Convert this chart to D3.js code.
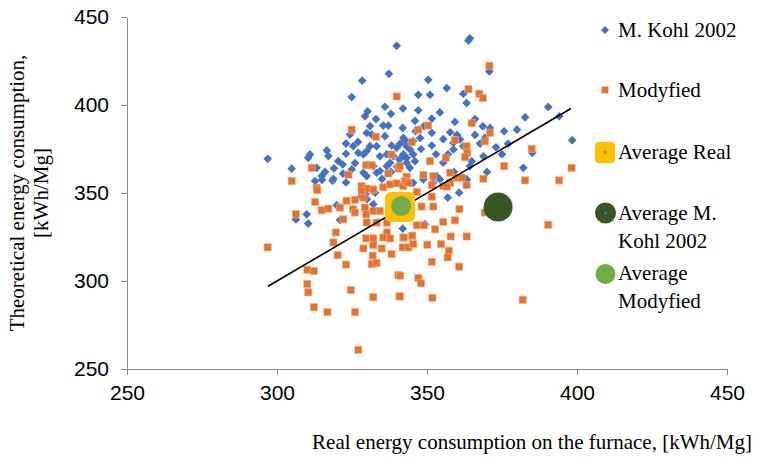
<!DOCTYPE html>
<html><head><meta charset="utf-8">
<script src="https://cdn.jsdelivr.net/npm/d3@7/dist/d3.min.js"></script>
<style>
html,body{margin:0;padding:0;background:#fff;}
svg{display:block;font-family:"Palatino Linotype","Book Antiqua",Palatino,"Liberation Serif",serif;}
</style></head>
<body><svg id="c" width="764" height="464"></svg>
<script>
const xTicks = [250,300,350,400,450];
const yTicks = [250,300,350,400,450];
const xTitle = "Real energy consumption on the furnace, [kWh/Mg]";
const yTitle = ["Theoretical energy consumption,", "[kWh/Mg]"];
const seriesNames = ["M. Kohl 2002","Modyfied","Average Real","Average M. Kohl 2002","Average Modyfied"];

const kohl = [
[339.9,433.6],[337.3,417.7],[328.4,413.8],[324.9,404.5],[330.2,396.4],[329.3,393.6],[296.9,369.4],[304.9,363.8],[311,371.9],[310.4,370],[316.6,374.2],[317.1,371],[313.2,364.3],[312.7,356.8],[314.9,359.6],[318.8,358.1],[320.4,368.1],[321.9,366.2],[323,372.3],[325.4,376.6],[323,378.1],[324.3,383.2],[327.1,372.8],[328.8,371.9],[329.9,384.1],[331.6,383.2],[331,376.6],[329.9,373.8],[333.2,376.6],[335.4,388.3],[337.1,388.3],[336,382.3],[334.3,370.9],[336.6,371.9],[338.2,377],[338.8,370.9],[339.9,375.7],[340.8,369],[341.9,387],[342.1,381.3],[343.2,376.6],[333.2,361.5],[334.3,362.5],[328.8,361.5],[329.9,359.6],[324.9,363.4],[332.1,365.3],[336.6,365.3],[337.7,367.2],[342.1,370.9],[343.2,370],
[309.9,337.9],[310.4,332.6],[306.3,335],[319.9,343],[321,334.7],[315,357.5],[318.5,357],[328,348],[329.5,349.5],[330,346.5],[332.1,343.6],[332.7,350.2],[341.9,329.8],
[364.3,437.9],[363.8,436.6],[370.8,419.1],[350.4,414.3],[356.6,409.6],[362.1,406.4],[363.2,401.1],[347.1,405.8],[351,405.8],[347.1,397],[354.3,395.8],[351.6,392.3],[359.3,390.4],[346.2,385.1],[351.6,384.2],[357.7,384.5],[368.6,387.9],[375.7,385.1],[382.7,393],[390.4,398.9],[394.1,393.6],[398.4,380],[341,378],[342.7,380],[345.4,379.5],[347.7,381.3],[344.3,374.8],[342.1,371.9],[345.4,371.9],[343.2,367.2],[346,368],[344.3,364.3],[355.4,380.6],[358.8,378.5],[361,380.4],[362.1,376.6],[358.8,374.7],[351.6,377],[367.7,378.1],[369.3,381.3],[364.9,368.1],[364.3,365.3],[355.4,367.2],[368.8,370.9],[382.1,364.3],[385.1,372.8],[348.8,357.7],[353.2,359.6],[363.2,357.7],[352.1,355.8],[345.4,355.8],
[349.3,332.3],[356.9,347.4],[360.7,350.2],[354.3,357.7],[363.2,357.7],
[338,362],[340,365],[335,358],[326,367],[322,361],[319,364],[327,379],[333,392],[338,395],[349,388],[353,372],[348,375],[357,372],[360,383],[366,383],[371,387],[366,392],[373,376],[377,378],[359,362],[370,362],[375,372],[380,386],[346,391],[342,398],[336,399],[331,388],[323,356],[316,362]
];

const modyfied = [
[339.9,404.9],[324.9,386],[333,381.9],[338.2,371.9],[311.6,364.3],[304.9,356.8],[323.8,360.4],[329.7,365.8],[331.6,365.8],[337.1,361.1],[340.5,363.9],[343.2,359.2],[313.2,353],[328.2,354],[329.9,352.5],[332.1,352],[335.4,353.3],[337.7,354.9],[339.9,355.5],[342.1,354],
[313.4,351.7],[312.7,344.9],[314.9,340.2],[317.1,341.1],[321,341.7],[323.2,345.5],[326,346.1],[328.8,347.4],[328.2,351.2],[325.4,340.8],[326,338.9],[329.3,341.7],[329.7,337.9],[332.1,339.8],[334.3,339.8],[322.1,335.1],[329.9,333.2],[333.2,333.2],[336.6,327.6],[336.6,333.2],[319.6,327.6],[318.8,321.9],[296.9,319.1],[329.7,324.2],[332.1,324.2],[335.4,324.7],[337.7,324.2],[332.1,320.4],[328.8,318.5],[334.9,318.5],[342.1,324.7],[341.9,319.1],[343.8,319.1],[338.2,315.3],[320.2,314.7],[323,309.3],[331.9,314.4],[331.6,309.6],[333.2,310.2],[310.1,306.4],[312.3,305.7],[310.1,298.3],[310.4,293.6],[324.6,294.9],[340.4,303.4],[332.1,290.8],[340.8,291.2],[312.3,285.1],[316.8,282.3],[326,282.3],[327.1,260.9],[306.3,338],
[370.8,422.3],[363.8,409],[367.4,406.4],[368.6,404],[364.9,389.8],[350.4,388.3],[347.1,386],[371,384.2],[369.3,379.4],[344.9,378.9],[359.3,380],[363.2,376.6],[363.4,372.8],[362.7,370.4],[356.3,370],[351,368.1],[341,365.3],[375.7,365.3],[384.9,375.1],[398.2,364.3],[348.8,360.2],[352.1,359.6],[357.7,361.5],[359.9,358.7],[361.6,358.7],[357.7,355.8],[368.8,358.1],[382.7,357.2],[394,357.2],[342.7,356.8],[343.8,355.8],[351.6,354.5],[355.4,354],[363.2,354.5],
[346.6,350.6],[351.6,347.9],[356.6,353.6],[348.2,342.3],[352.1,342.3],[360.8,340.8],[355.4,333.6],[359.3,334.5],[346.6,331.7],[349,331.7],[352.7,329.4],[342.3,324.7],[345.1,325.7],[357.9,325.3],[363.2,325.3],[345.4,321],[350.1,320.6],[354.7,321],[357.3,317.2],[356.9,313.4],[351.6,310.9],[360.7,308.1],[347.1,301.7],[348,298.7],[341,303],[351.8,290.4],[341,291.3],[390.4,331.9],[381.9,289.3],[369.3,338.9]
];

const averageReal = [[341,342]];
const averageKohl = [[373.7,342]];
const averageModyfied = [[341.4,342.6]];
const trendLine = [[297,297],[398,398]];

const colors = {kohl:"#4472C4", mod:"#E5732F", real:"#FFC000", avgKohl:"#375623", avgMod:"#70AD47"};

const svg = d3.select("#c");
const x = d3.scaleLinear().domain([250,450]).range([127,727]);
const y = d3.scaleLinear().domain([250,450]).range([369,17]);
const axisColor = "#8c8c8c";
const fontSize = 21;

// axes
const gx = svg.append("g").attr("transform","translate(0,"+y(250)+")")
  .call(d3.axisBottom(x).tickValues(xTicks).tickSize(6).tickSizeOuter(0).tickPadding(10));
const gy = svg.append("g").attr("transform","translate("+x(250)+",0)")
  .call(d3.axisLeft(y).tickValues(yTicks).tickSize(6).tickSizeOuter(0).tickPadding(12));
[gx,gy].forEach(g=>{
  g.selectAll("path,line").attr("stroke",axisColor).attr("stroke-width",1).attr("shape-rendering","crispEdges");
  g.selectAll("text").attr("fill","#000").attr("font-size",fontSize).attr("font-family","inherit");
});

// series M. Kohl 2002 (diamonds)
const dia = d3.symbol().type(d3.symbolDiamond2).size(48);
svg.append("g").selectAll("path").data(kohl).join("path")
  .attr("d",dia).attr("transform",d=>"translate("+x(d[0])+","+y(d[1])+") ")
  .attr("fill",colors.kohl);

// Modyfied (squares)
const sq = d3.symbol().type(d3.symbolSquare).size(52);
svg.append("g").selectAll("path").data(modyfied).join("path")
  .attr("d",sq).attr("transform",d=>"translate("+x(d[0])+","+y(d[1])+")")
  .attr("fill",colors.mod).attr("stroke","#F4B183").attr("stroke-width",0.6);

// trend line
svg.append("path").datum(trendLine)
  .attr("d",d3.line().x(d=>x(d[0])).y(d=>y(d[1])))
  .attr("stroke","#000").attr("stroke-width",1.6).attr("fill","none");

// averages
svg.append("g").selectAll("rect").data(averageReal).join("rect")
  .attr("x",d=>x(d[0])-15).attr("y",d=>y(d[1])-15).attr("width",30).attr("height",30)
  .attr("rx",6).attr("fill",colors.real);
svg.append("g").selectAll("circle").data(averageKohl).join("circle")
  .attr("cx",d=>x(d[0])).attr("cy",d=>y(d[1])).attr("r",14.5).attr("fill",colors.avgKohl);
svg.append("g").selectAll("circle").data(averageModyfied).join("circle")
  .attr("cx",d=>x(d[0])).attr("cy",d=>y(d[1])).attr("r",10).attr("fill",colors.avgMod);

// axis titles
svg.append("text").attr("x",752).attr("y",449).attr("text-anchor","end")
  .attr("font-size",fontSize).text(xTitle);
const yt = svg.append("text").attr("transform","translate(0,193) rotate(-90)")
  .attr("text-anchor","middle").attr("font-size",fontSize);
yt.append("tspan").attr("x",0).attr("y",24).text(yTitle[0]);
yt.append("tspan").attr("x",0).attr("y",48).text(yTitle[1]);

// legend
const lg = svg.append("g");
const lx = 605, tx = 618;
lg.append("path").attr("d",d3.symbol().type(d3.symbolDiamond2).size(40)).attr("transform","translate("+lx+",30)").attr("fill",colors.kohl);
lg.append("path").attr("d",d3.symbol().type(d3.symbolSquare).size(46)).attr("transform","translate("+lx+",90)").attr("fill",colors.mod);
lg.append("rect").attr("x",lx-10).attr("y",142).attr("width",20).attr("height",21).attr("rx",4).attr("fill",colors.real);
lg.append("rect").attr("x",lx-1.5).attr("y",151).attr("width",3).attr("height",3).attr("fill",colors.mod);
lg.append("circle").attr("cx",lx+0.5).attr("cy",213).attr("r",10.5).attr("fill",colors.avgKohl);
lg.append("circle").attr("cx",lx+0.5).attr("cy",213).attr("r",1.5).attr("fill",colors.kohl);
lg.append("circle").attr("cx",lx+0.5).attr("cy",274).attr("r",10).attr("fill",colors.avgMod);
const legendTexts = [
  {t:[seriesNames[0]], y:37},
  {t:[seriesNames[1]], y:97},
  {t:[seriesNames[2]], y:159},
  {t:["Average M.","Kohl 2002"], y:220},
  {t:["Average","Modyfied"], y:280}
];
legendTexts.forEach(d=>{
  const t = lg.append("text").attr("font-size",fontSize).attr("x",tx).attr("y",d.y);
  d.t.forEach((s,i)=>t.append("tspan").attr("x",tx).attr("dy",i?28:0).text(s));
});
</script></body></html>
